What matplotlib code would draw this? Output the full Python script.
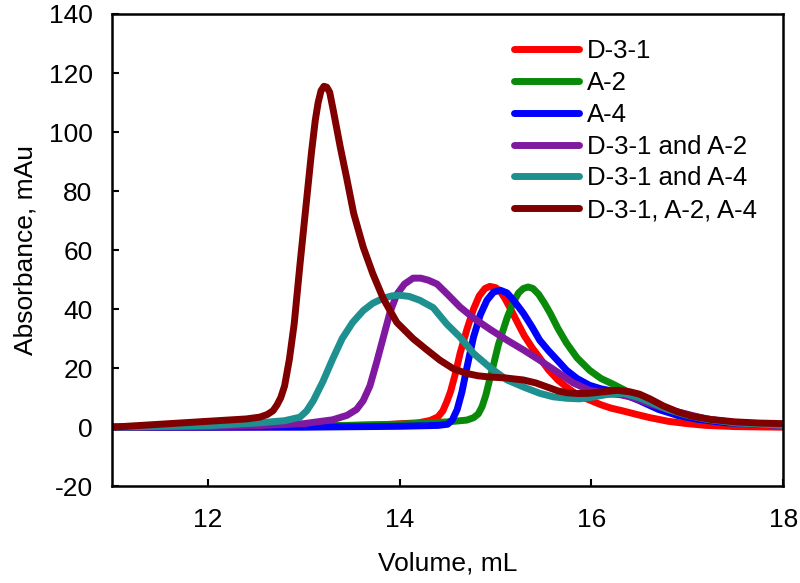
import matplotlib
matplotlib.use("Agg")
import matplotlib.pyplot as plt

plt.rcParams['font.family'] = ['Liberation Sans', 'DejaVu Sans']
plt.rcParams['axes.unicode_minus'] = False

labels = ["D-3-1", "A-2", "A-4", "D-3-1 and A-2", "D-3-1 and A-4", "D-3-1, A-2, A-4"]
colors = ["#ff0000", "#0a8a0a", "#0000ff", "#8019a0", "#1f9090", "#800000"]

x_d31 = [11, 12, 13, 13.8, 14.2, 14.32, 14.4, 14.45, 14.49, 14.53, 14.58, 14.63, 14.7, 14.77, 14.83,
         14.89, 14.94, 15.0, 15.05, 15.1, 15.15, 15.22, 15.3, 15.38, 15.46, 15.55, 15.65, 15.74,
         15.85, 15.98, 16.1, 16.2, 16.33, 16.45, 16.6, 16.8, 17.0, 17.2, 17.5, 18]
y_d31 = [0, 0, 0.2, 0.8, 1.5, 2.3, 3.5, 5.5, 8.5, 12, 18, 25, 33, 40, 44.5,
         47, 47.7, 47.3, 46, 43.5, 40.5, 36, 31, 27, 23.5, 19.5, 16, 13.6,
         11, 9.2, 7.6, 6.5, 5.5, 4.5, 3.3, 2, 1.2, 0.6, 0.2, 0]

x_a2 = [11, 13, 14.0, 14.5, 14.7, 14.77, 14.82, 14.86, 14.9, 14.93, 14.97, 15.03, 15.08, 15.12, 15.18,
        15.24, 15.29, 15.34, 15.39, 15.45, 15.51, 15.57, 15.65, 15.74, 15.85, 15.98, 16.1, 16.23,
        16.35, 16.5, 16.7, 16.9, 17.1, 17.4, 18]
y_a2 = [0, 0.3, 1.0, 1.8, 2.4, 3.2, 4.5, 7, 11, 15, 20, 28, 33, 37, 42,
        45.5, 47, 47.5, 47, 45, 42, 38.6, 33.5, 28.5, 23.5, 19.3, 16.5, 14.5,
        12.5, 10, 6.5, 4, 2.7, 1.5, 0.7]

x_a4 = [11, 13, 14.0, 14.4, 14.5, 14.55, 14.6, 14.65, 14.7, 14.77, 14.84, 14.91, 14.98, 15.05,
        15.12, 15.2, 15.29, 15.38, 15.46, 15.55, 15.65, 15.74, 15.85, 15.98, 16.1, 16.23, 16.35,
        16.5, 16.7, 16.9, 17.1, 17.4, 18]
y_a4 = [0, 0, 0.3, 0.6, 1.0, 2.5, 6, 12, 20, 30.5, 38, 43, 45.8, 46.4,
        45.5, 42.5, 38.6, 34, 29.5, 26, 22.5, 19.3, 16.5, 14.2, 13, 12.2, 11,
        9, 6, 4, 2.7, 1.5, 0.7]

x_d31_a2 = [11, 12, 12.5, 13.0, 13.3, 13.45, 13.55, 13.62, 13.69, 13.76, 13.83, 13.9, 13.97, 14.05,
            14.14, 14.22, 14.3, 14.39, 14.5, 14.63, 14.77, 14.95, 15.12, 15.3, 15.46, 15.64, 15.81,
            15.98, 16.15, 16.3, 16.44, 16.6, 16.8, 16.96, 17.2, 17.5, 18]
y_d31_a2 = [0, 0.2, 0.5, 1.2, 2.5, 4, 6, 9, 14, 22, 30.5, 39, 45, 48.5,
            50.5, 50.5, 49.8, 48.5, 45, 40.7, 37, 33, 29.5, 26, 22.7, 18.8, 15,
            12.5, 11.5, 11, 10, 8, 6, 4.7, 2.8, 1.5, 0.5]

x_d31_a4 = [11, 12, 12.5, 12.8, 12.96, 13.03, 13.1, 13.2, 13.3, 13.4, 13.51, 13.62, 13.72, 13.83,
            13.92, 14.0, 14.1, 14.21, 14.35, 14.49, 14.63, 14.77, 14.95, 15.12, 15.3, 15.46, 15.6,
            15.74, 15.87, 15.98, 16.15, 16.33, 16.5, 16.65, 16.8, 17.0, 17.2, 17.5, 18]
y_d31_a4 = [0, 0.5, 1.4, 2.2, 3.4, 5.5, 9, 15.5, 23, 30, 35.5, 39.5, 42, 43.7,
            44.5, 44.7, 44.3, 43, 40.5, 35, 30.5, 25, 20, 16, 13.5, 11.5, 10.3,
            9.8, 9.6, 10, 11, 11.5, 10, 8, 6, 4, 2.7, 1.5, 0.7]

x_all = [11, 11.5, 12.0, 12.4, 12.54, 12.62, 12.68, 12.72, 12.76, 12.8, 12.85, 12.9, 12.96, 13.02,
         13.08, 13.12, 13.15, 13.18, 13.21, 13.24, 13.27, 13.31, 13.38, 13.45, 13.52, 13.62, 13.72,
         13.83, 13.97, 14.14, 14.28, 14.42, 14.56, 14.7, 14.82, 14.94, 15.1,
         15.29, 15.42, 15.54, 15.65, 15.74, 15.86, 15.98, 16.12, 16.27, 16.4, 16.5, 16.61, 16.75,
         16.9, 17.05, 17.25, 17.5, 17.75, 18]
y_all = [0, 1.0, 2.0, 2.8, 3.4, 4.3, 5.6, 7.5, 10, 14, 23, 35, 55, 74,
         93, 104, 110, 114, 115.5, 115.2, 113.5, 107, 95, 84, 72.5, 61, 52,
         43.5, 35.5, 30, 26.3, 22.7, 19.8, 18.2, 17.4, 17, 16.7,
         16, 15, 13.6, 12.3, 11.7, 11.4, 11.5, 12, 12.5, 12, 11.2, 9.6, 7.2,
         5.2, 3.7, 2.6, 1.8, 1.4, 1.2]

xs = [x_d31, x_a2, x_a4, x_d31_a2, x_d31_a4, x_all]
ys = [y_d31, y_a2, y_a4, y_d31_a2, y_d31_a4, y_all]

fig = plt.figure(figsize=(8, 5.83), dpi=100)
ax = fig.add_axes([0.14, 0.166, 0.839, 0.81])

for x, y, c, lab in zip(xs, ys, colors, labels):
    ax.plot(x, y, color=c, lw=5, label=lab, solid_joinstyle='round', solid_capstyle='round')

ax.set_xlim(11, 18)
ax.set_ylim(-20, 140)
ax.set_xticks([12, 14, 16, 18])
ax.set_yticks(range(-20, 141, 20))
ax.tick_params(direction='in', length=5, width=1.5, labelsize=19, colors='black')
ax.tick_params(axis='y', pad=14)
ax.tick_params(axis='x', pad=16)
for s in ax.spines.values():
    s.set_linewidth(1.8)
    s.set_color('black')

ax.set_xlabel("Volume, mL", fontsize=19, labelpad=14)
ax.set_ylabel("Absorbance, mAu", fontsize=19, labelpad=8)

leg = ax.legend(loc='upper left', bbox_to_anchor=(0.565, 0.995), frameon=False, fontsize=18.5,
                handlelength=2.5, handletextpad=0.33, labelspacing=0.30, borderaxespad=0.5)

fig.savefig("out.png", dpi=100)
